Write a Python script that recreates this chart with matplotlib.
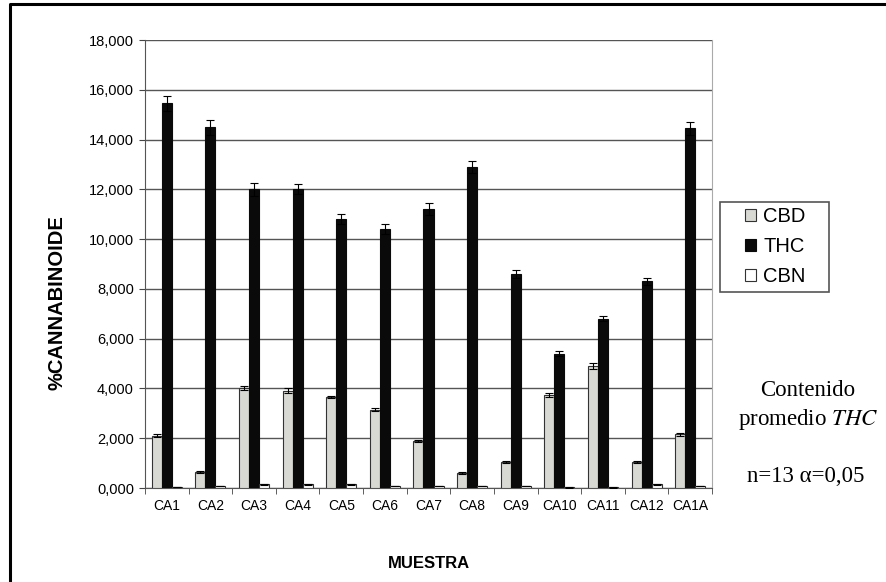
import numpy as np
import matplotlib
matplotlib.use('Agg')
import matplotlib.pyplot as plt
from matplotlib.lines import Line2D
from matplotlib.patches import Rectangle
from matplotlib.ticker import FuncFormatter

###########################################################
# Data (% cannabinoid per sample)
###########################################################

muestras = ['CA1', 'CA2', 'CA3', 'CA4', 'CA5', 'CA6', 'CA7',
            'CA8', 'CA9', 'CA10', 'CA11', 'CA12', 'CA1A']

cbd = [2.10, 0.65, 4.00, 3.90, 3.65, 3.15, 1.88, 0.60, 1.05, 3.75, 4.90, 1.05, 2.15]
thc = [15.45, 14.50, 12.00, 12.00, 10.80, 10.40, 11.20, 12.90, 8.60, 5.40, 6.80, 8.30, 14.45]
cbn = [0.05, 0.08, 0.15, 0.15, 0.15, 0.08, 0.08, 0.08, 0.08, 0.03, 0.03, 0.15, 0.08]

cbd_err = [0.05, 0.05, 0.08, 0.10, 0.05, 0.05, 0.05, 0.05, 0.05, 0.08, 0.12, 0.05, 0.05]
thc_err = [0.30, 0.30, 0.25, 0.20, 0.20, 0.20, 0.25, 0.25, 0.15, 0.10, 0.10, 0.15, 0.25]
cbn_err = [0.01, 0.01, 0.01, 0.01, 0.01, 0.01, 0.01, 0.01, 0.01, 0.01, 0.01, 0.01, 0.01]

###########################################################
# Plotting
###########################################################

plt.rcParams['font.family'] = ['Liberation Sans', 'DejaVu Sans']

W, H = 886, 582
fig = plt.figure(figsize=(W / 100, H / 100), dpi=100)
ax = fig.add_axes([145 / W, 1 - 488 / H, 567 / W, 448 / H])

x = np.arange(len(muestras))
w = 0.23
ekw = dict(ecolor='black', elinewidth=0.8, capsize=3, capthick=0.8)

ax.bar(x - w, cbd, w, yerr=cbd_err, color='#d9d9d4', edgecolor='#333333',
       linewidth=0.8, label='CBD', error_kw=ekw, zorder=3)
ax.bar(x, thc, w, yerr=thc_err, color='#0a0a0a', edgecolor='#0a0a0a',
       linewidth=0.8, label='THC', error_kw=ekw, zorder=3)
ax.bar(x + w, cbn, w, yerr=cbn_err, color='white', edgecolor='#333333',
       linewidth=0.8, label='CBN', error_kw=ekw, zorder=3)

ax.set_xlim(-0.5, len(muestras) - 0.5)
ax.set_ylim(0, 18)
ax.set_yticks(np.arange(0, 19, 2))
#### comma as decimal separator, 3 decimals (e.g. 12,000)
ax.yaxis.set_major_formatter(FuncFormatter(lambda v, p: ('%.3f' % v).replace('.', ',')))

ax.set_xticks(x)
ax.set_xticklabels(muestras)
ax.set_xticks(np.arange(-0.5, len(muestras)), minor=True)
ax.tick_params(axis='x', which='major', length=0, pad=8, labelsize=10)
ax.tick_params(axis='x', which='minor', length=4, color='#444444', direction='out')
ax.tick_params(axis='y', length=4, color='#444444', labelsize=10.5, pad=4)

ax.grid(axis='y', color='#555555', linewidth=1.0, zorder=0)
ax.spines['top'].set_visible(False)
ax.spines['right'].set_color('#aaaaaa')
ax.spines['left'].set_color('#555555')
ax.spines['bottom'].set_color('#555555')

ax.set_ylabel('%CANNABINOIDE', fontsize=14.5, fontweight='bold')
ax.yaxis.set_label_coords(-(145 - 57) / 567, (488 - 303) / 448)
ax.set_xlabel('MUESTRA', fontsize=12, fontweight='bold')
ax.xaxis.set_label_coords(0.5, -(563 - 488) / 448)
ax.xaxis.label.set_va('center')
ax.yaxis.label.set_va('center')

#### Legend with a hand-drawn frame (wider than matplotlib's padding)
leg = fig.legend(loc='upper left', bbox_to_anchor=(745 / W, 1 - 207 / H),
                 fontsize=14.5, frameon=False, borderaxespad=0, borderpad=0,
                 handlelength=0.55, handleheight=0.55, handletextpad=0.35,
                 labelspacing=0.55)
fig.add_artist(Rectangle((720 / W, 1 - 292 / H), 109 / W, 90 / H,
                         transform=fig.transFigure, fill=False,
                         edgecolor='#555555', linewidth=1.2))

#### Side note
fig.text(808 / W, 1 - 396 / H, 'Contenido', family='Liberation Serif',
         fontsize=16.5, ha='center', va='baseline')
fig.text(808 / W, 1 - 425 / H, 'promedio $\\mathit{THC}$', family='Liberation Serif',
         fontsize=16.5, ha='center', va='baseline', math_fontfamily='stix')
fig.text(806 / W, 1 - 482 / H, 'n=13 \u03b1=0,05', family='Liberation Serif',
         fontsize=16.5, ha='center', va='baseline')

#### Outer frame (left and top edge)
fig.add_artist(Line2D([10 / W, 10 / W, 1.0], [0.0, 1 - 4 / H, 1 - 4 / H],
                      transform=fig.transFigure, color='black', linewidth=2.2))

fig.savefig('out.png', dpi=100)
